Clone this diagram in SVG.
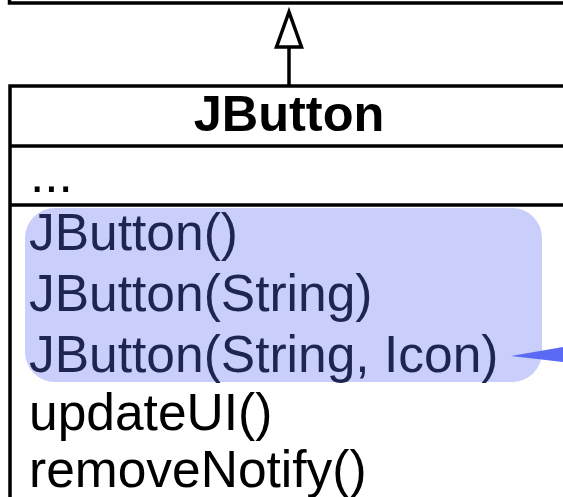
<svg xmlns="http://www.w3.org/2000/svg" width="563" height="497" viewBox="0 0 563 497">
<style>
.ln{stroke:#000;stroke-width:3.5;fill:none}
.t{font-family:"Liberation Sans",Arial,sans-serif;font-size:51.5px;fill:#000}
.b{font-weight:bold;font-size:50.5px}
.hl{fill:#1e2550}
</style>
<rect width="563" height="497" fill="#fff"/>
<g id="superclass">
<path class="ln" d="M9.5,-10 V3 H570"/>
</g>
<g id="JButton">
<rect x="10" y="86" width="570" height="430" class="ln" fill="#fff"/>
<line class="ln" x1="10" y1="146" x2="570" y2="146"/>
<line class="ln" x1="10" y1="205" x2="570" y2="205"/>
<rect x="25" y="208" width="517" height="174" rx="30" fill="#c9cefa"/>
<text class="t b" x="289" y="131" text-anchor="middle">JButton</text>
<text class="t" x="30" y="192">...</text>
<text class="t hl" x="29" y="250">JButton()</text>
<text class="t hl" x="29" y="311">JButton(String)</text>
<text class="t hl" x="29" y="372">JButton(String, Icon)</text>
<text class="t" x="29" y="430">updateUI()</text>
<text class="t" x="29" y="487">removeNotify()</text>
</g>
<g id="connectors">
<line class="ln" x1="289" y1="47" x2="289" y2="86"/>
<polygon points="289,12 276.5,47 301.5,47" fill="#fff" stroke="#000" stroke-width="3.5" stroke-linejoin="miter"/>
<polygon points="511,356 563,347 563,362" fill="#5a6af5"/>
</g>
</svg>
